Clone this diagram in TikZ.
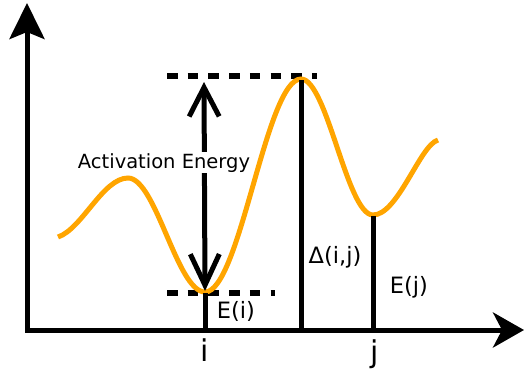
\documentclass[tikz,border=0pt]{standalone}
\usepackage{fontspec}
\setmainfont{DejaVu Sans}
\usetikzlibrary{arrows.meta}
\definecolor{curveorange}{HTML}{FFA500}

\begin{document}
\begin{tikzpicture}[
  x=1pt, y=-1pt,
  axis/.style={line width=5pt, draw=black, line join=miter},
  curve/.style={line width=5pt, draw=curveorange},
  level/.style={line width=5.5pt, draw=black, dash pattern=on 10.5pt off 10.2pt},
  bar/.style={line width=5pt, draw=black},
  lbl/.style={inner sep=0pt, anchor=base, font=\fontsize{22.5}{26}\selectfont}
]
  % marco de 524 x 373
  \useasboundingbox (0,0) rectangle (524,373);

  % --- EJES ---
  \coordinate (o)    at (27,330);
  \coordinate (ytip) at (27,3);
  \coordinate (xtip) at (524,330);
  \draw[axis, {Stealth[length=36pt, width=35pt, inset=7pt]}-{Stealth[length=31pt, width=35pt, inset=9pt]}]
    (ytip) -- (o) -- (xtip);

  % --- CURVA DE ENERGIA ---
  \coordinate (s)    at (58,237);
  \coordinate (hill) at (128,178);
  \coordinate (mini) at (205,292);
  \coordinate (peak) at (301,79);
  \coordinate (minj) at (373,215);
  \coordinate (e)    at (438,140);

  % --- NIVELES ---
  \coordinate (topl) at (167,76);
  \coordinate (topr) at (317,76);
  \coordinate (lowl) at (167,293);
  \coordinate (lowr) at (275,293);
  \draw[level] (topl) -- (topr);
  \draw[level] (lowl) -- (lowr);

  \draw[curve] (s) .. controls (82,229) and (103,178) .. (hill)
    .. controls (156,178) and (177,292) .. (mini)
    .. controls (240,292) and (266,79) .. (peak)
    .. controls (327,79) and (347,215) .. (minj)
    .. controls (398,215) and (420,145) .. (e);

  % --- BARRAS ---
  \coordinate (ifoot) at (205,330);
  \coordinate (pfoot) at (301,330);
  \coordinate (jfoot) at (373,330);
  \coordinate (ptop)  at (301,80);
  \coordinate (jtop)  at (373,216);
  \draw[bar] (ifoot) -- (lowl -| ifoot);
  \draw[bar] (pfoot) -- (ptop);
  \draw[bar] (jfoot) -- (jtop);

  % --- ENERGIA DE ACTIVACION ---
  \coordinate (aetop) at (204,82);
  \coordinate (aebot) at (205,291);
  \draw[bar, {Straight Barb[length=29pt, width=30pt]}-{Straight Barb[length=31pt, width=29pt]}] (aetop) -- (aebot);
  \node[lbl, fill=white, font=\fontsize{19.5}{23}\selectfont, inner sep=1pt] (act) at (164,168) {Activation Energy};

  % --- ETIQUETAS ---
  \node[lbl] (ei)    at (236,318) {E(i)};
  \node[lbl] (delta) at (335,263) {Δ(i,j)};
  \node[lbl] (ej)    at (409,293) {E(j)};
  \node[lbl, font=\fontsize{30}{34}\selectfont] (li) at (205,361) {i};
  \node[lbl, font=\fontsize{30}{34}\selectfont] (lj) at (375,362) {j};
\end{tikzpicture}
\end{document}
